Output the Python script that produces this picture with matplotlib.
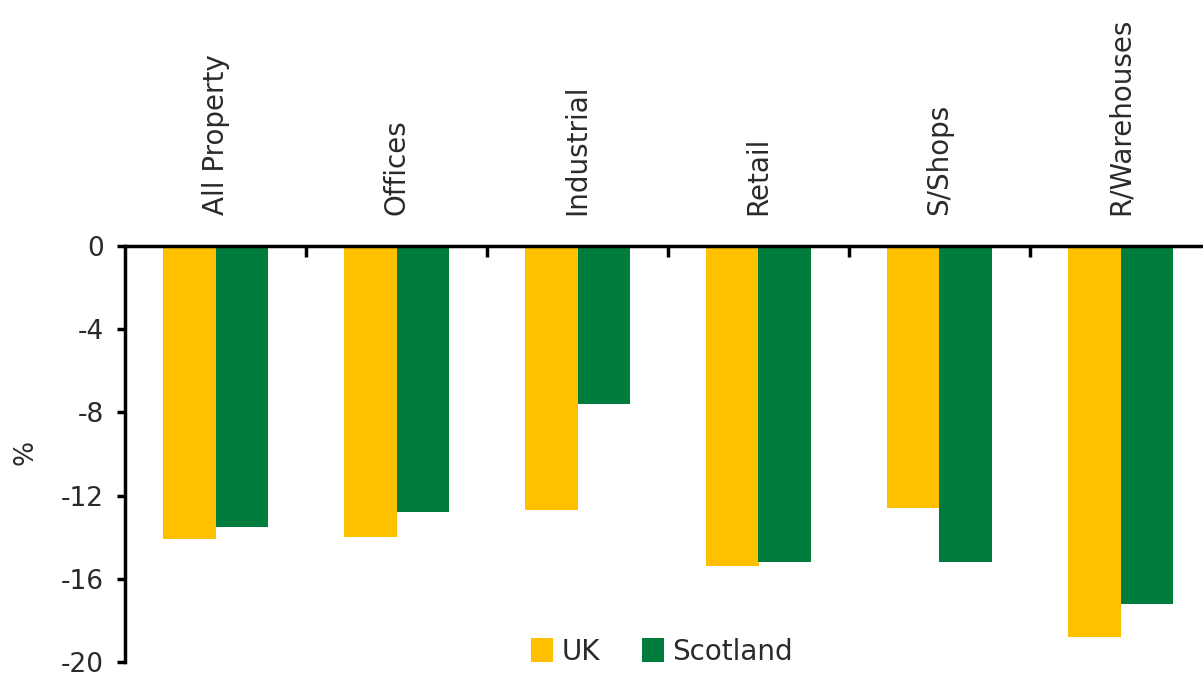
import matplotlib
matplotlib.use('Agg')
import matplotlib.pyplot as plt
import numpy as np

categories = ['All Property', 'Offices', 'Industrial', 'Retail', 'S/Shops', 'R/Warehouses']
uk = [-14.1, -14.0, -12.7, -15.4, -12.6, -18.8]
scotland = [-13.5, -12.8, -7.6, -15.2, -15.2, -17.2]
yticks = [0, -4, -8, -12, -16, -20]

plt.rcParams['font.family'] = ['DejaVu Sans']
txt = '#2a2a2a'

fig = plt.figure(figsize=(12.03, 6.77), dpi=100)
ax = fig.add_axes([125 / 1203, 15 / 677, 1078 / 1203, 416 / 677])

x = np.arange(len(categories))
w = 0.29
ax.bar(x - w / 2, uk, w, color='#FFC000', label='UK')
ax.bar(x + w / 2, scotland, w, color='#007D3C', label='Scotland')

ax.set_ylim(-20, 0)
ax.set_xlim(-0.5, -0.5 + 1078 / 181)
ax.set_yticks(yticks)
ax.set_yticklabels([str(v) for v in yticks], fontsize=19, color=txt)

for s in ['right', 'bottom']:
    ax.spines[s].set_visible(False)
ax.spines['top'].set_linewidth(2.5)
ax.spines['left'].set_linewidth(2.5)

ax.xaxis.set_ticks_position('top')
ax.set_xticks(x)
ax.set_xticklabels(categories, rotation=90, fontsize=20, color=txt)
ax.set_xticks(np.arange(0.5, len(categories) - 0.5), minor=True)
ax.tick_params(axis='x', which='major', length=0, pad=22)
ax.tick_params(axis='x', which='minor', direction='in', length=8, width=2.5)
ax.tick_params(axis='y', direction='out', length=6, width=2.5, pad=9)

fig.text(25 / 1203, 1 - 452 / 677, '%', rotation=90, fontsize=19, color=txt,
         ha='center', va='center')

fig.legend(loc='center', bbox_to_anchor=(662 / 1203, 1 - 652 / 677), ncol=2,
           frameon=False, fontsize=20, handlelength=0.8, handleheight=0.95,
           handletextpad=0.3, columnspacing=1.5, labelcolor=txt)

fig.savefig('out.png', dpi=100)
